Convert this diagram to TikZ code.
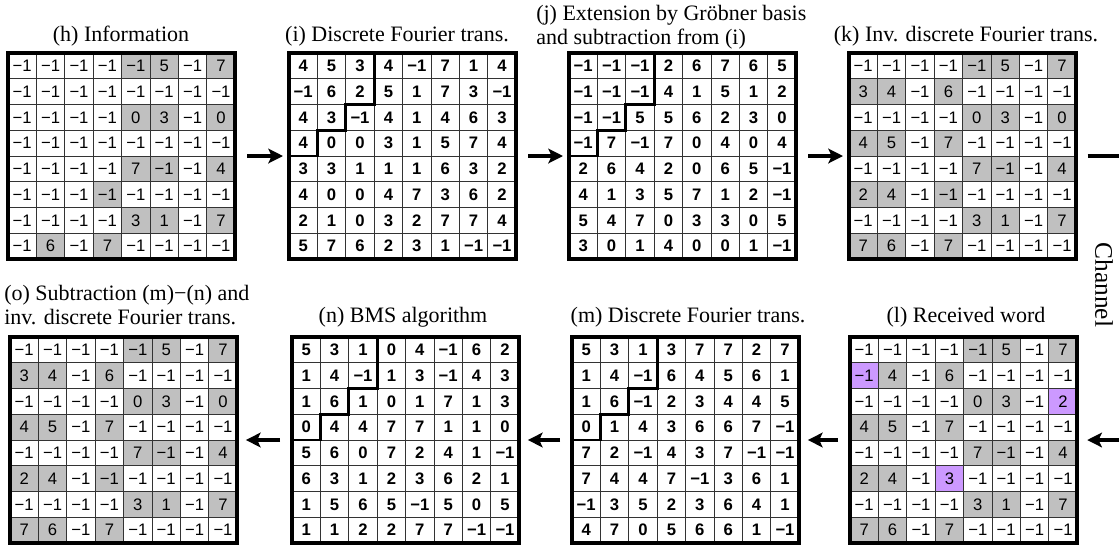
\documentclass[tikz,border=0pt]{standalone}
\usepackage{fontspec}
\setmainfont{Liberation Serif}
\newfontfamily\numfont{Liberation Sans}
\usetikzlibrary{arrows.meta}
\definecolor{cellgray}{RGB}{192,192,192}
\definecolor{celllilac}{RGB}{204,153,255}

% one 8x8 table: #1 number style, #2 name, #3 x, #4 y, #5 rows
\newcommand{\cellgrid}[5][num]{%
  \foreach \rw [count=\jj from 0] in {#5} {
    \foreach \vv [count=\ii from 0] in \rw {
      \node[#1] (#2-\ii-\jj) at ({#3+(\ii+0.5)*28.4},{#4+(\jj+0.5)*25.75}) {\ifnum\vv<0 −1\else\vv\fi};
    }
  }
  \foreach \kk in {1,...,7} {
    \draw[cellline] ({#3+\kk*28.4},#4) -- ({#3+\kk*28.4},{#4+206});
    \draw[cellline] (#3,{#4+\kk*25.75}) -- ({#3+227.2},{#4+\kk*25.75});
  }
  \node[gridbox] (#2) at ({#3+113.6},{#4+103}) {};
}
% shaded cells: #1 x, #2 y, #3 colour, #4 list col/row
\newcommand{\fillcells}[4]{%
  \foreach \cc/\rr in {#4}
    \fill[#3] ({#1+\cc*28.4},{#2+\rr*25.75}) rectangle ++(28.4,25.75);
}
% staircase boundary
\newcommand{\stairs}[2]{%
  \draw[stair] ({#1+3*28.4},#2) -- ++(0,51.5) -- ++(-28.4,0) -- ++(0,25.75) -- ++(-28.4,0) -- ++(0,25.75) -- ++(-28.4,0);
}

\begin{document}
\begin{tikzpicture}[x=0.75pt,y=0.75pt,yscale=-1,xscale=1,
  num/.style={font=\numfont\fontsize{12.5}{14}\selectfont,inner sep=0pt},
  numbold/.style={font=\numfont\bfseries\fontsize{12.5}{14}\selectfont,inner sep=0pt},
  cellline/.style={line width=0.5pt,black!80},
  gridbox/.style={draw,line width=3pt,minimum width=170.4pt,minimum height=154.5pt,inner sep=0pt,outer sep=0pt},
  stair/.style={line width=2.2pt,line cap=rect,line join=miter},
  title/.style={font=\fontsize{16.5}{18}\selectfont,inner sep=0pt},
  flow/.style={line width=2.4pt,-{Stealth[length=11pt,width=11pt,inset=2.5pt]}},
  link/.style={line width=2.4pt}]
\useasboundingbox (0,0) rectangle (1119,544);

%Titles
\node[title] (th) at (121,36) {(h) Information};
\node[title] (ti) at (397,36) {(i) Discrete Fourier trans.};
\node[title,anchor=west,align=left] (tj) at (536,27) {(j) Extension by Gröbner basis\\and subtraction from (i)};
\node[title] (tk) at (966,36) {(k) Inv. discrete Fourier trans.};
\node[title,anchor=west,align=left] (to) at (4,305) {(o) Subtraction (m)−(n) and\\inv. discrete Fourier trans.};
\node[title] (tn) at (403,317) {(n) BMS algorithm};
\node[title] (tm) at (688,317) {(m) Discrete Fourier trans.};
\node[title] (tl) at (966,317) {(l) Received word};

%(h) Information
\fillcells{8}{53}{cellgray}{4/0,5/0,7/0,4/2,5/2,7/2,4/4,5/4,7/4,3/5,4/6,5/6,7/6,1/7,3/7}
\cellgrid{h}{8}{53}{{-1,-1,-1,-1,-1,5,-1,7},{-1,-1,-1,-1,-1,-1,-1,-1},{-1,-1,-1,-1,0,3,-1,0},{-1,-1,-1,-1,-1,-1,-1,-1},{-1,-1,-1,-1,7,-1,-1,4},{-1,-1,-1,-1,-1,-1,-1,-1},{-1,-1,-1,-1,3,1,-1,7},{-1,6,-1,7,-1,-1,-1,-1}}

%(i) Discrete Fourier trans.
\cellgrid[numbold]{i}{289}{53}{{4,5,3,4,-1,7,1,4},{-1,6,2,5,1,7,3,-1},{4,3,-1,4,1,4,6,3},{4,0,0,3,1,5,7,4},{3,3,1,1,1,6,3,2},{4,0,0,4,7,3,6,2},{2,1,0,3,2,7,7,4},{5,7,6,2,3,1,-1,-1}}
\stairs{289}{53}

%(j) Extension
\cellgrid[numbold]{j}{569}{53}{{-1,-1,-1,2,6,7,6,5},{-1,-1,-1,4,1,5,1,2},{-1,-1,5,5,6,2,3,0},{-1,7,-1,7,0,4,0,4},{2,6,4,2,0,6,5,-1},{4,1,3,5,7,1,2,-1},{5,4,7,0,3,3,0,5},{3,0,1,4,0,0,1,-1}}
\stairs{569}{53}

%(k) Inv. discrete Fourier trans.
\fillcells{849}{53}{cellgray}{4/0,5/0,7/0,0/1,1/1,3/1,4/2,5/2,7/2,0/3,1/3,3/3,4/4,5/4,7/4,0/5,1/5,3/5,4/6,5/6,7/6,0/7,1/7,3/7}
\cellgrid{k}{849}{53}{{-1,-1,-1,-1,-1,5,-1,7},{3,4,-1,6,-1,-1,-1,-1},{-1,-1,-1,-1,0,3,-1,0},{4,5,-1,7,-1,-1,-1,-1},{-1,-1,-1,-1,7,-1,-1,4},{2,4,-1,-1,-1,-1,-1,-1},{-1,-1,-1,-1,3,1,-1,7},{7,6,-1,7,-1,-1,-1,-1}}

%(l) Received word
\fillcells{850}{337}{cellgray}{4/0,5/0,7/0,1/1,3/1,4/2,5/2,0/3,1/3,3/3,4/4,5/4,7/4,0/5,1/5,4/6,5/6,7/6,0/7,1/7,3/7}
\fillcells{850}{337}{celllilac}{0/1,7/2,3/5}
\cellgrid{l}{850}{337}{{-1,-1,-1,-1,-1,5,-1,7},{-1,4,-1,6,-1,-1,-1,-1},{-1,-1,-1,-1,0,3,-1,2},{4,5,-1,7,-1,-1,-1,-1},{-1,-1,-1,-1,7,-1,-1,4},{2,4,-1,3,-1,-1,-1,-1},{-1,-1,-1,-1,3,1,-1,7},{7,6,-1,7,-1,-1,-1,-1}}

%(m) Discrete Fourier trans.
\cellgrid[numbold]{m}{572}{337}{{5,3,1,3,7,7,2,7},{1,4,-1,6,4,5,6,1},{1,6,-1,2,3,4,4,5},{0,1,4,3,6,6,7,-1},{7,2,-1,4,3,7,-1,-1},{7,4,4,7,-1,3,6,1},{-1,3,5,2,3,6,4,1},{4,7,0,5,6,6,1,-1}}
\stairs{572}{337}

%(n) BMS algorithm
\cellgrid[numbold]{n}{292}{337}{{5,3,1,0,4,-1,6,2},{1,4,-1,1,3,-1,4,3},{1,6,1,0,1,7,1,3},{0,4,4,7,7,1,1,0},{5,6,0,7,2,4,1,-1},{6,3,1,2,3,6,2,1},{1,5,6,5,-1,5,0,5},{1,1,2,2,7,7,-1,-1}}
\stairs{292}{337}

%(o) Subtraction
\fillcells{10}{337}{cellgray}{4/0,5/0,7/0,0/1,1/1,3/1,4/2,5/2,7/2,0/3,1/3,3/3,4/4,5/4,7/4,0/5,1/5,3/5,4/6,5/6,7/6,0/7,1/7,3/7}
\cellgrid{o}{10}{337}{{-1,-1,-1,-1,-1,5,-1,7},{3,4,-1,6,-1,-1,-1,-1},{-1,-1,-1,-1,0,3,-1,0},{4,5,-1,7,-1,-1,-1,-1},{-1,-1,-1,-1,7,-1,-1,4},{2,4,-1,-1,-1,-1,-1,-1},{-1,-1,-1,-1,3,1,-1,7},{7,6,-1,7,-1,-1,-1,-1}}

%Arrows
\draw[flow,shorten <=9pt,shorten >=4.5pt] (h) -- (i);
\draw[flow,shorten <=9pt,shorten >=4.5pt] (i) -- (j);
\draw[flow,shorten <=9pt,shorten >=4.5pt] (j) -- (k);
\draw[flow,shorten <=9pt,shorten >=6.5pt] (l) -- (m);
\draw[flow,shorten <=9pt,shorten >=6.5pt] (m) -- (n);
\draw[flow,shorten <=9pt,shorten >=6.5pt] (n) -- (o);

%Channel
\coordinate (chtop) at (1119,156);
\coordinate (chbot) at (1119,440);
\draw[link,shorten <=8.5pt] (k) -- (chtop);
\draw[flow,shorten >=7.5pt] (chbot) -- (l);
\node[title,rotate=-90,font=\fontsize{19}{21}\selectfont] (chan) at (1104,285) {Channel};

\end{tikzpicture}
\end{document}
